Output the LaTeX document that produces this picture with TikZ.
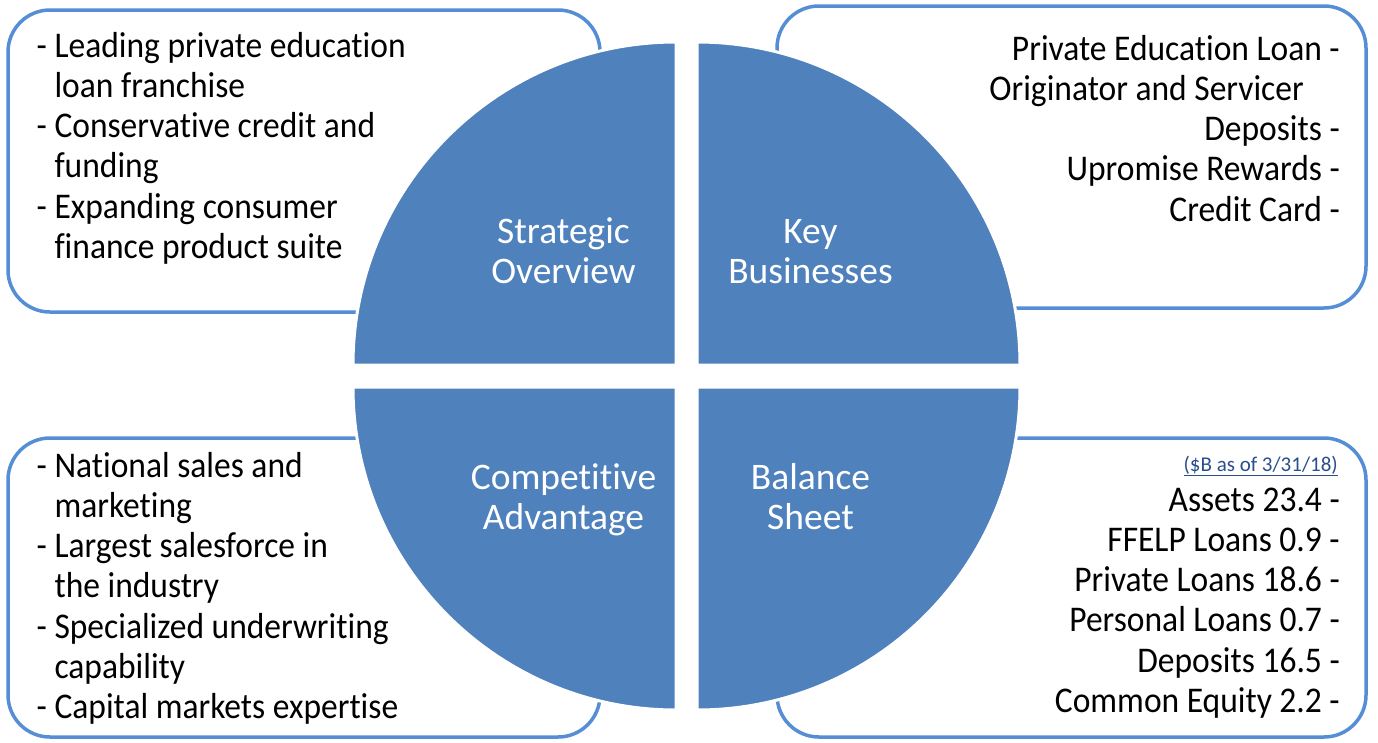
\documentclass[tikz,border=0pt]{standalone}
\usepackage{fontspec}
\setmainfont{Carlito}[Ligatures={NoCommon,NoContextual,NoRare}]
\definecolor{quadblue}{RGB}{79,129,189}
\definecolor{boxblue}{RGB}{85,142,213}
\definecolor{notecol}{RGB}{41,79,140}
\newcommand\boxfont{\fontsize{33.5}{37.3}\selectfont}
\newcommand\quadfont{\fontsize{37.5}{40}\selectfont}
\newcommand\notefont{\fontsize{21}{24}\selectfont}
\newcommand\tallbox[1]{\scalebox{1}[1.08]{#1}}
\tikzset{
  panel/.style={draw=boxblue, line width=3.5pt, rounded corners=42pt, fill=white},
  quad/.style={fill=quadblue, draw=white, line width=3pt},
  boxtext/.style={inner sep=0pt, font=\boxfont},
  quadtext/.style={inner sep=0pt, text=white, font=\quadfont, anchor=base},
}

\begin{document}
\begin{tikzpicture}[x=1pt,y=-1pt]
				%%%%% START %%%%%
				\def\rad{323}
				\def\xl{676}
				\def\xr{697}
				\def\yt{365}
				\def\yb{387}

				\useasboundingbox (0,0) rectangle (1378,742);

				% boxes behind the circle
				\draw[panel] (8,10) rectangle (600,312);
				\draw[panel] (777,6) rectangle (1366,308);
				\draw[panel] (8,438) rectangle (600,737);
				\draw[panel] (777,438) rectangle (1366,737);

				% four quarters
				\draw[quad] (\xl,\yt) -- ++(-\rad,0) arc[start angle=180, end angle=270, radius=\rad] -- cycle;
				\draw[quad] (\xr,\yt) -- ++(0,-\rad) arc[start angle=270, end angle=360, radius=\rad] -- cycle;
				\draw[quad] (\xl,\yb) -- ++(-\rad,0) arc[start angle=180, end angle=90, radius=\rad] -- cycle;
				\draw[quad] (\xr,\yb) -- ++(\rad,0) arc[start angle=0, end angle=90, radius=\rad] -- cycle;

				\node[quadtext] (strategic) at (563.5,243) {\begin{tabular}[t]{@{}c@{}}Strategic\\Overview\end{tabular}};
				\node[quadtext] (key) at (810.5,243) {\begin{tabular}[t]{@{}c@{}}Key\\Businesses\end{tabular}};
				\node[quadtext] (competitive) at (563.5,489) {\begin{tabular}[t]{@{}c@{}}Competitive\\Advantage\end{tabular}};
				\node[quadtext] (balance) at (810.5,489) {\begin{tabular}[t]{@{}c@{}}Balance\\Sheet\end{tabular}};

				% texts in the boxes
				\node[boxtext, anchor=base west] (overviewlist) at (36.5,57) {\tallbox{\begin{tabular}[t]{@{}l@{\ }l@{}}
					- & Leading private education\\
					  & loan franchise\\
					- & Conservative credit and\\
					  & funding\\
					- & Expanding consumer\\
					  & finance product suite
				\end{tabular}}};
				\node[boxtext, anchor=base east] (businesslist) at (1340,60) {\tallbox{\begin{tabular}[t]{@{}r@{}}
					Private Education Loan -\\
					Originator and Servicer\hspace*{36pt}\\
					Deposits -\\
					Upromise Rewards -\\
					Credit Card -
				\end{tabular}}};
				\node[boxtext, anchor=base west] (advantagelist) at (36.5,477) {\tallbox{\begin{tabular}[t]{@{}l@{\ }l@{}}
					- & National sales and\\
					  & marketing\\
					- & Largest salesforce in\\
					  & the industry\\
					- & Specialized underwriting\\
					  & capability\\
					- & Capital markets expertise
				\end{tabular}}};
				\node[inner sep=0pt, anchor=base east, font=\notefont, text=notecol] (asof) at (1338,471) {\underline{(\$B as of 3/31/18)}};
				\node[boxtext, anchor=base east] (sheetlist) at (1340,511) {\tallbox{\begin{tabular}[t]{@{}r@{}}
					Assets 23.4 -\\
					FFELP Loans 0.9 -\\
					Private Loans 18.6 -\\
					Personal Loans 0.7 -\\
					Deposits 16.5 -\\
					Common Equity 2.2 -
				\end{tabular}}};
				%%%%% START %%%%%
\end{tikzpicture}
\end{document}
